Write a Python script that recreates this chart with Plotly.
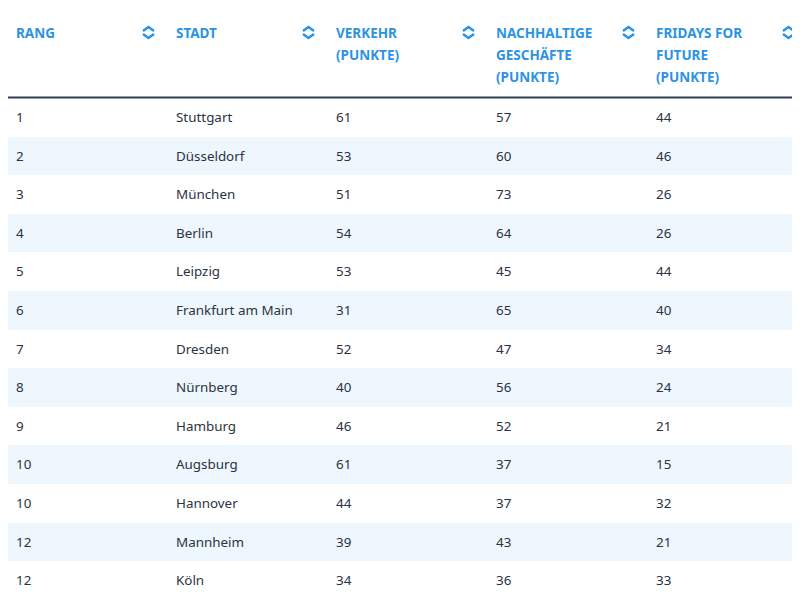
import plotly.graph_objects as go

header_lines = [["RANG"], ["STADT"], ["VERKEHR", "(PUNKTE)"],
                ["NACHHALTIGE", "GESCHÄFTE", "(PUNKTE)"],
                ["FRIDAYS FOR", "FUTURE", "(PUNKTE)"]]

rang = [1, 2, 3, 4, 5, 6, 7, 8, 9, 10, 10, 12, 12]
stadt = ["Stuttgart", "Düsseldorf", "München", "Berlin", "Leipzig",
         "Frankfurt am Main", "Dresden", "Nürnberg", "Hamburg", "Augsburg",
         "Hannover", "Mannheim", "Köln"]
verkehr = [61, 53, 51, 54, 53, 31, 52, 40, 46, 61, 44, 39, 34]
geschaefte = [57, 60, 73, 64, 45, 65, 47, 56, 52, 37, 37, 43, 36]
fff = [44, 46, 26, 26, 44, 40, 34, 24, 21, 15, 32, 21, 33]

W, H = 810, 600
blue = "#2b93e3"
navy = "#2c3e55"
col_w = 160
row_h = 38.6
head_h = 90
n = len(rang)
stripe = ["#ffffff" if i % 2 == 0 else "#eef7fd" for i in range(n)]
clear = "rgba(0,0,0,0)"
widths = [col_w] * 4 + [W - 4 * col_w]

fig = go.Figure()

# row backgrounds
fig.add_trace(go.Table(
    domain=dict(x=[0, 1], y=[0, 1]),
    columnwidth=widths,
    header=dict(values=[""] * 5, height=head_h, fill_color="white",
                line=dict(width=0, color="white")),
    cells=dict(values=[[""] * n] * 5, height=row_h, fill_color=[stripe] * 5,
               line=dict(width=0, color="white")),
))

# row text
fig.add_trace(go.Table(
    domain=dict(x=[0, 1], y=[0, 1]),
    columnwidth=widths,
    header=dict(values=[""] * 5, height=head_h + 6, fill_color=clear,
                line=dict(width=0, color=clear)),
    cells=dict(
        values=[rang, stadt, verkehr, geschaefte, fff],
        align="left",
        height=row_h,
        fill_color=clear,
        line=dict(width=0, color=clear),
        font=dict(family="Noto Sans", size=13.4, color="#2a3342"),
    ),
))

# header labels
for i, lines in enumerate(header_lines):
    for j, line in enumerate(lines):
        fig.add_annotation(
            text="<b>" + line + "</b>", x=(i * col_w + 6) / W, y=1 - (25 + 22 * j) / H,
            xref="paper", yref="paper", xanchor="left", yanchor="middle",
            showarrow=False, font=dict(family="Noto Sans", size=13.5, color=blue),
        )

# header separator
fig.add_shape(type="line", xref="paper", yref="paper",
              x0=0, x1=1, y0=1 - 89.5 / H, y1=1 - 89.5 / H,
              line=dict(color=navy, width=2))

# sort icons (up/down chevrons)
for i in range(len(header_lines)):
    cx = i * col_w + 140.5
    cy = 24.5
    for dy in (-1, 1):
        ytip = cy + dy * 5.5
        ybase = cy + dy * 1.5
        fig.add_shape(
            type="path", xref="paper", yref="paper",
            path="M {},{} L {},{} L {},{}".format(
                (cx - 5.5) / W, 1 - ybase / H,
                cx / W, 1 - ytip / H,
                (cx + 5.5) / W, 1 - ybase / H),
            line=dict(color=blue, width=2.5),
        )

fig.update_layout(width=W, height=H, margin=dict(l=0, r=0, t=0, b=0),
                  paper_bgcolor="white")
fig.write_html("out.html")
